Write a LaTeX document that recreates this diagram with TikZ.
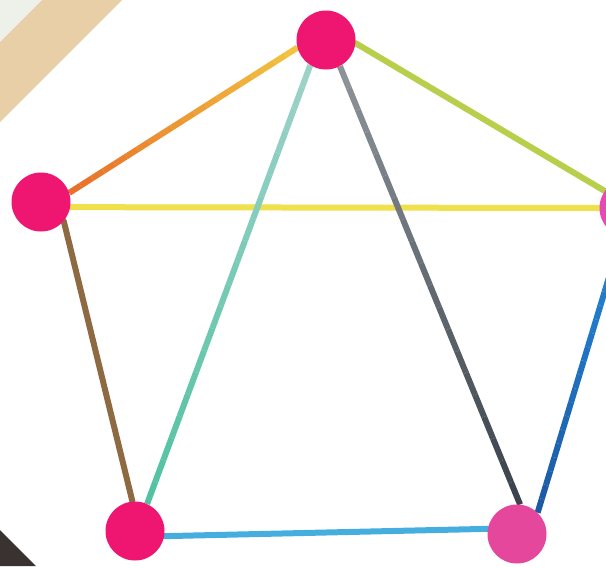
\documentclass[tikz,border=0pt]{standalone}
\usetikzlibrary{calc,backgrounds}
\definecolor{pinkA}{HTML}{EE1670}
\definecolor{pinkB}{HTML}{E5479C}
\definecolor{pinkC}{HTML}{E64AB4}
\definecolor{tanband}{HTML}{E8CFA8}
\definecolor{cornerbg}{HTML}{EEF0EA}
\definecolor{darkcorner}{HTML}{3A3230}
\definecolor{eOrange}{HTML}{E8702A}
\definecolor{eYellowO}{HTML}{F2C23E}
\definecolor{eYG}{HTML}{B8CF4C}
\definecolor{eYellow}{HTML}{EFE04C}
\definecolor{eTealL}{HTML}{9CD2C8}
\definecolor{eTealD}{HTML}{52C2A2}
\definecolor{eGrayL}{HTML}{8C9298}
\definecolor{eGrayD}{HTML}{3C434C}
\definecolor{eBrown}{HTML}{8E6A42}
\definecolor{eLBlue}{HTML}{45AEDF}
\definecolor{eBlue}{HTML}{1C5AA4}
\definecolor{eBlueL}{HTML}{2286D6}
\tikzset{
  vert/.style={circle,inner sep=0pt,minimum size=59pt},
  edge/.style={line width=6pt,line cap=round},
}
\begin{document}
\begin{tikzpicture}[x=1pt,y=-1pt]
\useasboundingbox (0,0) rectangle (606,566);

\node[vert,fill=pinkA] (t) at (326,40) {};
\node[vert,fill=pinkA] (l) at (41,202) {};
\node[vert,fill=pinkC] (r) at (629,208) {};
\node[vert,fill=pinkA] (bl) at (135,531) {};
\node[vert,fill=pinkB] (br) at (517,534) {};

\begin{scope}[on background layer]
\fill[white] (0,0) rectangle (606,566);
\fill[cornerbg] (0,0) -- (42,0) -- (0,42) -- cycle;
\fill[tanband] (42,0) -- (122,0) -- (0,122) -- (0,42) -- cycle;
\fill[darkcorner] (0,530) -- (0,566) -- (36,566) -- cycle;
\draw[edge,eYG] (t.-6) -- (r.145);
\draw[edge,eYellow] (l.-10) -- (r.180);
\draw[edge,eBrown] (l.-40) -- (bl.95);
\draw[edge,eLBlue] (bl.-10) -- (br.170);
\foreach \i in {0,...,19}{
  \pgfmathsetmacro{\a}{\i/20}
  \pgfmathsetmacro{\b}{(\i+1)/20}
  \pgfmathsetmacro{\p}{100*\i/19}
  \draw[edge,line cap=butt,color=eOrange!\p!eYellowO] ($(t.195)!\a!(l.18)$) -- ($(t.195)!\b!(l.18)$);
  \draw[edge,line cap=butt,color=eTealD!\p!eTealL] ($(t.238)!\a!(bl.66)$) -- ($(t.238)!\b!(bl.66)$);
  \draw[edge,line cap=butt,color=eGrayD!\p!eGrayL] ($(t.298)!\a!(br.84)$) -- ($(t.298)!\b!(br.84)$);
  \draw[edge,line cap=butt,color=eBlue!\p!eBlueL] ($(r.255)!\a!(br.46)$) -- ($(r.255)!\b!(br.46)$);
}
\end{scope}
\end{tikzpicture}
\end{document}
